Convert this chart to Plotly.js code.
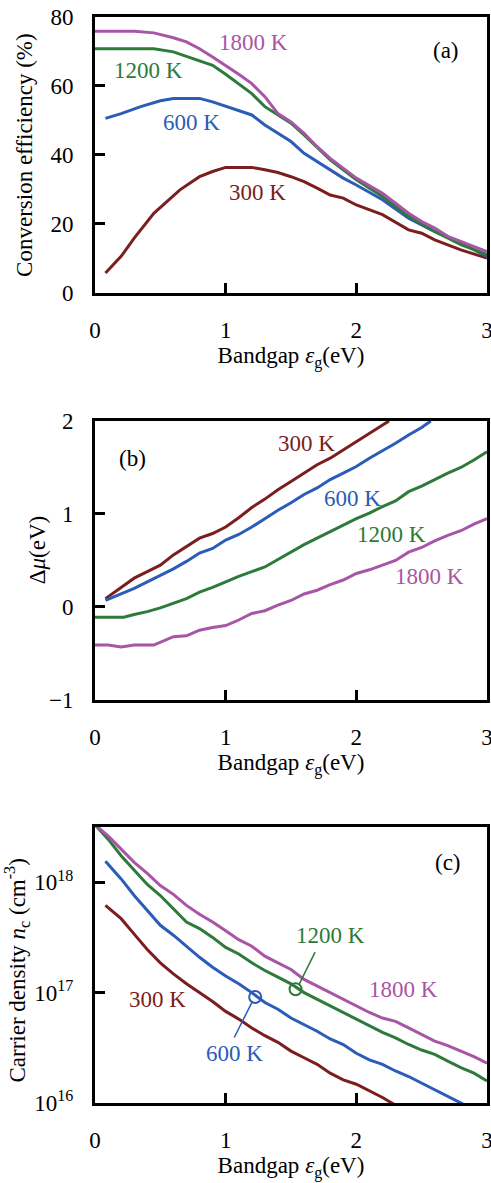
<!DOCTYPE html>
<html><head><meta charset="utf-8">
<script src="https://cdn.plot.ly/plotly-3.0.1.min.js"></script>
<style>html,body{margin:0;padding:0;background:#fff;}#plot{width:491px;height:1183px;}</style>
</head><body><div id="plot"></div>
<script>
// ---------- Panel (a): conversion efficiency (%) ----------
const effX1800 = [0,0.3,0.45,0.6,0.7,0.8,0.9,1.0,1.1,1.2,1.3,1.4,1.5,1.6,1.7,1.8,1.9,2.0,2.2,2.4,2.5,2.6,2.7,2.8,2.9,3.0];
const eff1800  = [75.9,75.9,75.4,74,72.8,70.8,68.4,66,63.4,60.7,56.9,52,49.6,46.3,42.4,39,36.1,33.3,28.9,23.1,20.7,18.8,16.4,14.9,13.5,12];
const effX1200 = [0,0.45,0.6,0.7,0.8,0.9,1.0,1.1,1.2,1.3,1.4,1.5,1.6,1.8,2.0,2.2,2.4,2.6,2.8,3.0];
const eff1200  = [70.8,70.8,69.9,68.6,67.5,66,63.4,60.7,57.8,54,51.6,49.2,45.8,38.6,32.8,28,22.2,17.8,14,11.1];
const effX600  = [0.08,0.2,0.35,0.5,0.6,0.8,0.9,1.0,1.1,1.2,1.3,1.4,1.5,1.6,1.7,1.8,1.9,2.0,2.2,2.4,2.6,2.8,3.0];
const eff600   = [50.6,52,54,55.7,56.4,56.4,55.4,54.2,53,51.6,48.7,46.3,43.9,40.5,38.1,35.7,33.3,31.3,27,21.7,17.8,14.5,10.6];
const effX300  = [0.08,0.2,0.3,0.45,0.55,0.65,0.8,0.9,1.0,1.2,1.3,1.4,1.5,1.6,1.7,1.8,1.9,2.0,2.2,2.4,2.5,2.6,2.8,3.0];
const eff300   = [5.8,10.6,15.9,23.1,26.5,29.9,33.7,35.2,36.4,36.4,35.7,34.9,33.7,32.3,30.4,28.4,27.5,25.5,22.7,18.3,17.3,15.4,12.5,10.1];

// ---------- Panel (b): Δμ (eV) ----------
const muX300  = [0.08,0.2,0.3,0.4,0.5,0.6,0.7,0.8,0.9,1.0,1.1,1.2,1.3,1.4,1.5,1.6,1.7,1.8,1.9,2.0,2.1,2.2,2.25];
const mu300   = [0.09,0.21,0.31,0.38,0.45,0.56,0.65,0.74,0.79,0.86,0.96,1.07,1.16,1.26,1.35,1.44,1.53,1.60,1.69,1.78,1.87,1.96,2.0];
const muX600  = [0.08,0.2,0.3,0.4,0.5,0.6,0.7,0.8,0.9,1.0,1.1,1.2,1.3,1.4,1.5,1.6,1.7,1.8,1.9,2.0,2.1,2.2,2.3,2.4,2.5,2.57];
const mu600   = [0.07,0.14,0.20,0.27,0.34,0.41,0.49,0.58,0.63,0.72,0.78,0.86,0.95,1.04,1.12,1.21,1.28,1.37,1.44,1.51,1.60,1.68,1.76,1.85,1.93,2.0];
const muX1200 = [0,0.1,0.22,0.3,0.4,0.5,0.6,0.7,0.8,0.9,1.0,1.1,1.2,1.3,1.4,1.5,1.6,1.7,1.8,1.9,2.0,2.1,2.2,2.3,2.4,2.5,2.6,2.7,2.8,2.9,3.0];
const mu1200  = [-0.11,-0.11,-0.11,-0.08,-0.05,-0.01,0.04,0.09,0.16,0.21,0.27,0.33,0.38,0.43,0.51,0.59,0.67,0.74,0.81,0.88,0.95,1.01,1.08,1.14,1.24,1.30,1.37,1.44,1.50,1.58,1.67];
const muX1800 = [0,0.1,0.2,0.3,0.45,0.5,0.6,0.7,0.8,0.9,1.0,1.1,1.2,1.3,1.4,1.5,1.6,1.7,1.8,1.9,2.0,2.1,2.2,2.3,2.4,2.5,2.6,2.7,2.8,2.9,3.0];
const mu1800  = [-0.41,-0.41,-0.43,-0.41,-0.41,-0.38,-0.32,-0.31,-0.25,-0.22,-0.20,-0.14,-0.07,-0.04,0.02,0.07,0.14,0.18,0.24,0.29,0.36,0.40,0.45,0.50,0.59,0.64,0.71,0.77,0.82,0.89,0.95];

// ---------- Panel (c): carrier density, log10(n_c / cm^-3) ----------
const ncX1800 = [0,0.1,0.2,0.3,0.4,0.5,0.6,0.7,0.8,0.9,1.0,1.1,1.2,1.3,1.4,1.5,1.6,1.7,1.8,1.9,2.0,2.1,2.2,2.3,2.4,2.5,2.6,2.7,2.8,2.9,3.0];
const ncLog1800 = [18.52,18.42,18.30,18.18,18.08,17.97,17.89,17.79,17.71,17.64,17.56,17.48,17.42,17.33,17.27,17.21,17.12,17.06,17.0,16.94,16.88,16.82,16.77,16.74,16.68,16.62,16.56,16.52,16.47,16.42,16.36];
const ncX1200 = [0,0.1,0.2,0.3,0.4,0.5,0.6,0.7,0.8,0.9,1.0,1.1,1.2,1.3,1.4,1.5,1.6,1.7,1.8,1.9,2.0,2.1,2.2,2.3,2.4,2.5,2.6,2.7,2.8,2.9,3.0];
const ncLog1200 = [18.52,18.39,18.24,18.11,17.98,17.88,17.76,17.64,17.58,17.50,17.41,17.35,17.27,17.20,17.14,17.08,17.0,16.94,16.88,16.82,16.76,16.70,16.64,16.59,16.53,16.48,16.44,16.38,16.32,16.27,16.20];
const ncX600 = [0.08,0.2,0.3,0.4,0.5,0.6,0.7,0.8,0.9,1.0,1.1,1.2,1.3,1.4,1.5,1.6,1.7,1.8,1.9,2.0,2.1,2.2,2.3,2.4,2.5,2.6,2.7,2.8,2.85];
const ncLog600 = [18.19,18.03,17.88,17.74,17.61,17.52,17.42,17.32,17.23,17.15,17.08,17.0,16.91,16.85,16.77,16.71,16.65,16.58,16.53,16.45,16.39,16.35,16.29,16.24,16.18,16.12,16.06,16.0,15.97];
const ncX300 = [0.08,0.2,0.3,0.4,0.5,0.6,0.7,0.8,0.9,1.0,1.1,1.2,1.3,1.4,1.5,1.6,1.7,1.8,1.9,2.0,2.1,2.2,2.3];
const ncLog300 = [17.79,17.67,17.53,17.39,17.27,17.17,17.08,17.0,16.92,16.83,16.76,16.68,16.61,16.55,16.47,16.41,16.35,16.27,16.21,16.17,16.11,16.05,15.98];

// highlighted points (open circles) in panel (c)
const markX = [1.226, 1.535];
const markLog = [16.96, 17.03];

const xTickVals = [0,1,2,3];
const cTickVals = [1e16,1e17,1e18];
const cTickText = ['10<sup>16</sup>','10<sup>17</sup>','10<sup>18</sup>'];

const C300 = '#7A1E1E', C600 = '#2A5CB8', C1200 = '#2E7A3A', C1800 = '#A855A8';
const FONT = '"Liberation Serif", "Times New Roman", serif';
const FS = 23;
const pw = v => Math.pow(10, v);

function ln(x, y, color, xa, ya){
  return {x:x, y:y, xaxis:xa, yaxis:ya, mode:'lines', type:'scatter',
          line:{color:color, width:3}, hoverinfo:'skip', showlegend:false};
}

const traces = [
  ln(effX300, eff300, C300, 'x', 'y'),
  ln(effX600, eff600, C600, 'x', 'y'),
  ln(effX1200, eff1200, C1200, 'x', 'y'),
  ln(effX1800, eff1800, C1800, 'x', 'y'),
  ln(muX300, mu300, C300, 'x2', 'y2'),
  ln(muX600, mu600, C600, 'x2', 'y2'),
  ln(muX1200, mu1200, C1200, 'x2', 'y2'),
  ln(muX1800, mu1800, C1800, 'x2', 'y2'),
  ln(ncX300, ncLog300.map(pw), C300, 'x3', 'y3'),
  ln(ncX600, ncLog600.map(pw), C600, 'x3', 'y3'),
  ln(ncX1200, ncLog1200.map(pw), C1200, 'x3', 'y3'),
  ln(ncX1800, ncLog1800.map(pw), C1800, 'x3', 'y3'),
  {x:markX, y:markLog.map(pw), xaxis:'x3', yaxis:'y3', mode:'markers', type:'scatter',
   marker:{symbol:'circle-open', size:12, color:[C600, C1200], line:{width:2}},
   hoverinfo:'skip', showlegend:false}
];

function xax(anchor){
  return {range:[0,3], anchor:anchor, domain:[0,1], showline:true, mirror:true, linewidth:3, linecolor:'#000',
    showgrid:false, zeroline:false, ticks:'inside', ticklen:10, tickwidth:3, tickcolor:'#000',
    tickvals:xTickVals, ticklabelstandoff:14, ticklabeloverflow:'allow',
    tickfont:{family:FONT, size:FS, color:'#000'},
    title:{text:'Bandgap <i>ε</i><sub>g</sub>(eV)', font:{family:FONT, size:FS, color:'#000'}, standoff:6}};
}
function yax(anchor, domain, range, extra){
  return Object.assign({anchor:anchor, domain:domain, range:range, showline:true, mirror:true, linewidth:3,
    linecolor:'#000', showgrid:false, zeroline:false, ticks:'inside', ticklen:10, tickwidth:3, tickcolor:'#000',
    ticklabelstandoff:14, ticklabeloverflow:'allow', tickfont:{family:FONT, size:FS, color:'#000'}}, extra||{});
}

function lab(text, x, y, color, xref, yref){
  return {text:text, x:x, y:y, xref:xref, yref:yref, showarrow:false,
          font:{family:FONT, size:FS, color:color}, xanchor:'center', yanchor:'middle'};
}

const annotations = [
  lab('1800 K', 1.21, 72.5, C1800, 'x', 'y'),
  lab('1200 K', 0.41, 64.6, C1200, 'x', 'y'),
  lab('600 K', 0.74, 49.3, C600, 'x', 'y'),
  lab('300 K', 1.24, 29, C300, 'x', 'y'),
  lab('(a)', 2.69, 70.4, '#000', 'x', 'y'),
  lab('300 K', 1.62, 1.76, C300, 'x2', 'y2'),
  lab('600 K', 1.97, 1.17, C600, 'x2', 'y2'),
  lab('1200 K', 2.27, 0.78, C1200, 'x2', 'y2'),
  lab('1800 K', 2.56, 0.33, C1800, 'x2', 'y2'),
  lab('(b)', 0.29, 1.6, '#000', 'x2', 'y2'),
  lab('1200 K', 1.8, 17.52, C1200, 'x3', 'y3'),
  lab('1800 K', 2.36, 17.03, C1800, 'x3', 'y3'),
  lab('600 K', 1.07, 16.45, C600, 'x3', 'y3'),
  lab('300 K', 0.48, 16.94, C300, 'x3', 'y3'),
  lab('(c)', 2.70, 18.18, '#000', 'x3', 'y3'),
  // leader lines
  {x:1.56, y:17.07, ax:1.69, ay:17.38, axref:'x3', ayref:'y3', xref:'x3', yref:'y3',
   showarrow:true, arrowhead:0, arrowwidth:1.5, arrowcolor:C1200, text:''},
  {x:1.20, y:16.91, ax:1.06, ay:16.58, axref:'x3', ayref:'y3', xref:'x3', yref:'y3',
   showarrow:true, arrowhead:0, arrowwidth:1.5, arrowcolor:C600, text:''},
  // y titles
  {text:'Conversion efficiency (%)', xref:'paper', yref:'paper', x:0, y:0.873, xshift:-70,
   textangle:-90, showarrow:false, font:{family:FONT, size:FS, color:'#000'}, xanchor:'center', yanchor:'middle'},
  {text:'Δ<i>μ</i>(eV)', xref:'paper', yref:'paper', x:0, y:0.509, xshift:-58,
   textangle:-90, showarrow:false, font:{family:FONT, size:FS, color:'#000'}, xanchor:'center', yanchor:'middle'},
  {text:'Carrier density <i>n</i><sub>c</sub> (cm<sup>-3</sup>)', xref:'paper', yref:'paper', x:0, y:0.122, xshift:-78,
   textangle:-90, showarrow:false, font:{family:FONT, size:FS, color:'#000'}, xanchor:'center', yanchor:'middle'}
];

const layout = {
  width:491, height:1183, paper_bgcolor:'#fff', plot_bgcolor:'#fff',
  margin:{l:95, r:4, t:17, b:80},
  showlegend:false,
  font:{family:FONT, size:FS, color:'#000'},
  xaxis: xax('y'),
  xaxis2: xax('y2'),
  xaxis3: xax('y3'),
  yaxis: yax('x', [0.7459, 1.0], [0,80], {tickvals:[0,20,40,60,80]}),
  yaxis2: yax('x2', [0.3711, 0.628], [-1,2], {tickvals:[-1,0,1,2], ticktext:['−1','0','1','2']}),
  yaxis3: yax('x3', [0, 0.2541], [16, 18.5], {type:'log', tickvals:cTickVals, ticktext:cTickText}),
  annotations: annotations
};

Plotly.newPlot('plot', traces, layout, {staticPlot:true, displayModeBar:false});
</script>
</body></html>
